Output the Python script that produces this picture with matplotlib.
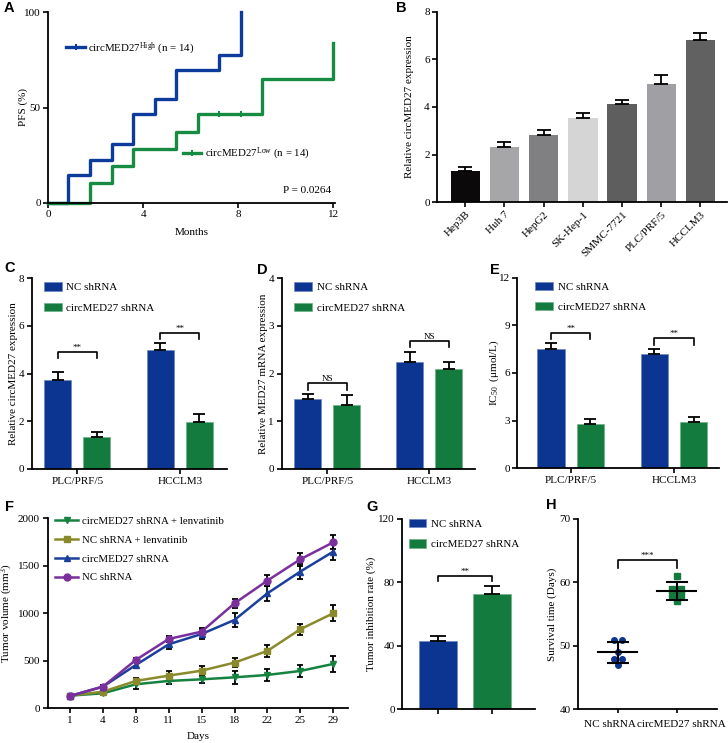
import numpy as np
import matplotlib
matplotlib.use("Agg")
import matplotlib.pyplot as plt
import matplotlib.transforms as mtransforms
from matplotlib.lines import Line2D
from matplotlib.patches import Patch

plt.rcParams["font.family"] = ["Liberation Serif", "DejaVu Serif"]
plt.rcParams["mathtext.fontset"] = "custom"
plt.rcParams["mathtext.rm"] = "Liberation Serif"
plt.rcParams["mathtext.it"] = "Liberation Serif:italic"
plt.rcParams["font.size"] = 7.5

W, H = 728, 743
BLUE = "#0b3590"
GREEN = "#137b3d"

# ---- A: PFS curves
high_t = [0, 0.84, 1.75, 2.7, 3.58, 4.49, 5.4, 7.19, 8.1]
high_v = [0, 14.3, 22.3, 31.0, 46.5, 54.5, 69.5, 77.5, 100]
low_t = [0, 1.75, 2.7, 3.58, 5.4, 6.3, 9.0, 12.0]
low_v = [0, 10.2, 19.4, 28.0, 37.3, 46.4, 65.0, 83.7]
low_censor_t = [7.2, 8.1]
low_censor_v = [46.4, 46.4]

# ---- B: cell lines
cell_lines = ["Hep3B", "Huh 7", "HepG2", "SK-Hep-1", "SMMC-7721", "PLC/PRF/5", "HCCLM3"]
cell_expr = [1.31, 2.32, 2.83, 3.52, 4.14, 4.98, 6.81]
cell_err = [0.19, 0.21, 0.20, 0.21, 0.17, 0.35, 0.28]
cell_colors = ["#0b0909", "#a6a6a8", "#808083", "#d5d5d5", "#5e5e5e", "#a0a0a4", "#616161"]

groups = ["PLC/PRF/5", "HCCLM3"]
# ---- C
c_nc = [3.75, 4.99]
c_nc_err = [0.33, 0.30]
c_sh = [1.34, 1.99]
c_sh_err = [0.20, 0.30]
c_brk = [4.92, 5.72]
# ---- D
d_nc = [1.46, 2.24]
d_nc_err = [0.11, 0.22]
d_sh = [1.35, 2.09]
d_sh_err = [0.20, 0.16]
d_brk = [1.80, 2.69]
# ---- E
e_nc = [7.53, 7.17]
e_nc_err = [0.34, 0.36]
e_sh = [2.77, 2.89]
e_sh_err = [0.31, 0.36]
e_brk = [8.54, 8.18]

# ---- F: tumour growth
days = ["1", "4", "8", "11", "15", "18", "22", "25", "29"]
nc_vol = [130, 228, 509, 730, 807, 1105, 1344, 1568, 1747]
nc_vol_err = [10, 20, 25, 30, 35, 45, 60, 65, 75]
sh_vol = [130, 228, 456, 674, 782, 930, 1210, 1439, 1649]
sh_vol_err = [10, 20, 35, 50, 55, 70, 80, 75, 85]
ncl_vol = [133, 175, 288, 344, 396, 481, 604, 832, 1000]
ncl_vol_err = [10, 15, 30, 45, 50, 45, 65, 60, 85]
shl_vol = [133, 158, 253, 288, 305, 326, 351, 393, 467]
shl_vol_err = [10, 15, 45, 35, 40, 65, 60, 60, 80]

# ---- G
inhib = [43.3, 72.7]
inhib_err = [2.9, 5.1]

# ---- H
surv_nc = [51, 51, 49, 48, 48, 47]
surv_sh = [61, 59, 59, 58, 58, 57]

fig = plt.figure(figsize=(W / 100, H / 100), dpi=100)


def px_axes(x0, y0, x1, y1):
    return fig.add_axes([x0 / W, 1 - y1 / H, (x1 - x0) / W, (y1 - y0) / H])


def style(ax, ylab_x=None):
    for s in ["top", "right"]:
        ax.spines[s].set_visible(False)
    for s in ["left", "bottom"]:
        ax.spines[s].set_linewidth(1.3)
    ax.tick_params(direction="out", length=3.5, width=1.2, labelsize=8, pad=2)
    if ylab_x is not None:
        ax.yaxis.set_label_coords(ylab_x, 0.5)


def panel(letter, x, y):
    fig.text(x / W, 1 - y / H, letter, fontsize=10.5, fontweight="bold",
             family="Liberation Sans", ha="left", va="center")


def bracket(ax, x1, x2, y, drop, label):
    ax.plot([x1, x1, x2, x2], [y - drop, y, y, y - drop], color="black", lw=1.2, clip_on=False)
    ax.text((x1 + x2) / 2, y, label, ha="center", va="bottom", fontsize=6.5)


def up_err(ax, x, top, err, cap=4):
    ax.errorbar(x, top, yerr=[np.zeros(len(top)), err], fmt="none", ecolor="black",
                elinewidth=1.3, capsize=cap, capthick=1.3)


def bar_legend(ax, anchor):
    handles = [Patch(facecolor=BLUE, edgecolor="#6b86c0", lw=0.5),
               Patch(facecolor=GREEN, edgecolor="#6fb08a", lw=0.5)]
    ax.legend(handles, ["NC shRNA", "circMED27 shRNA"], loc="upper left",
              bbox_to_anchor=anchor, frameon=False, fontsize=7.9, handlelength=1.6,
              handleheight=0.8, handletextpad=0.45, labelspacing=0.95,
              borderaxespad=0, borderpad=0)


def group_panel(ax, nc, nc_err, sh, sh_err, brk, drop, label, ymax, yticks, ylabel, ylab_x):
    x = np.arange(len(groups))
    off, w = 0.19, 0.265
    ax.bar(x - off, nc, w, color=BLUE, edgecolor="#6b86c0", lw=0.5)
    ax.bar(x + off, sh, w, color=GREEN, edgecolor="#6fb08a", lw=0.5)
    up_err(ax, x - off, nc, nc_err)
    up_err(ax, x + off, sh, sh_err)
    for i in range(len(groups)):
        bracket(ax, x[i] - off, x[i] + off, brk[i], drop, label)
    ax.set_xticks(x)
    ax.set_xticklabels(groups, fontsize=8)
    ax.set_ylim(0, ymax)
    ax.set_yticks(yticks)
    ax.set_ylabel(ylabel, fontsize=8)
    style(ax, ylab_x)


# ---------------- A
axA = px_axes(48.3, 12.3, 335, 202.7)
axA.step(high_t, high_v, where="post", color="#0d3b9c", lw=2.4, clip_on=False)
axA.step(low_t, low_v, where="post", color="#178b42", lw=2.4, clip_on=False)
axA.plot(low_censor_t, low_censor_v, ls="none", marker="|", ms=4, mew=1.5, color="#178b42")
axA.set_xlim(0, 12.08)
axA.set_ylim(0, 100)
axA.set_xticks([0, 4, 8, 12])
axA.set_yticks([0, 50, 100])
axA.set_xlabel("Months", fontsize=8, labelpad=6)
axA.set_ylabel("PFS (%)", fontsize=8)
style(axA, -0.0715)
lg1 = axA.legend([Line2D([], [], color="#0d3b9c", lw=2.4, marker="|", ms=4, mew=1.5)],
                 ["circMED27$^{\\mathrm{High}}$ (n = 14)"], loc="center left",
                 bbox_to_anchor=(0.063, 0.81), frameon=False, fontsize=7.8, handlelength=1.7,
                 handletextpad=0.3, borderpad=0, borderaxespad=0)
axA.add_artist(lg1)
axA.legend([Line2D([], [], color="#178b42", lw=2.4, marker="|", ms=4, mew=1.5)],
           ["circMED27$^{\\mathrm{Low}}$ (n = 14)"], loc="center left",
           bbox_to_anchor=(0.47, 0.255), frameon=False, fontsize=7.8, handlelength=1.7,
           handletextpad=0.3, borderpad=0, borderaxespad=0)
axA.text(0.985, 0.065, "P = 0.0264", transform=axA.transAxes, ha="right", va="center", fontsize=8)

# ---------------- B
axB = px_axes(437.3, 11.7, 726.7, 202.3)
xb = np.arange(len(cell_lines))
axB.bar(xb, cell_expr, 0.75, color=cell_colors)
up_err(axB, xb, cell_expr, cell_err, cap=5)
axB.set_xlim(-0.714, 6.67)
axB.set_ylim(0, 8)
axB.set_yticks([0, 2, 4, 6, 8])
axB.set_xticks(xb)
axB.set_xticklabels(cell_lines, rotation=45, ha="right", rotation_mode="anchor", fontsize=7.5)
axB.set_ylabel("Relative circMED27 expression", fontsize=8)
style(axB, -0.079)

# ---------------- C
axC = px_axes(31.7, 278.3, 226.7, 469)
group_panel(axC, c_nc, c_nc_err, c_sh, c_sh_err, c_brk, 0.28, "**", 8, [0, 2, 4, 6, 8],
            "Relative circMED27 expression", -0.071)
axC.set_xlim(-0.444, 1.455)
bar_legend(axC, (0.063, 0.98))

# ---------------- D
axD = px_axes(281.7, 278.3, 475, 469)
group_panel(axD, d_nc, d_nc_err, d_sh, d_sh_err, d_brk, 0.14, "NS", 4, [0, 1, 2, 3, 4],
            "Relative MED27 mRNA expression", -0.072)
axD.set_xlim(-0.447, 1.448)
bar_legend(axD, (0.065, 0.98))

# ---------------- E
axE = px_axes(517.3, 277.7, 719.3, 468.3)
group_panel(axE, e_nc, e_nc_err, e_sh, e_sh_err, e_brk, 0.4, "**", 12, [0, 3, 6, 9, 12],
            "IC$_{50}$  (μmol/L)", -0.082)
axE.tick_params(axis="y", pad=1.5)
axE.set_xlim(-0.517, 1.438)
bar_legend(axE, (0.09, 0.98))

# ---------------- F
axF = px_axes(47.7, 518.3, 348.3, 708.3)
xf = np.arange(len(days))
series = [
    ("circMED27 shRNA + lenvatinib", shl_vol, shl_vol_err, "#16823f", "v"),
    ("NC shRNA + lenvatinib", ncl_vol, ncl_vol_err, "#8a8a2c", "s"),
    ("circMED27 shRNA", sh_vol, sh_vol_err, "#1b3f9b", "^"),
    ("NC shRNA", nc_vol, nc_vol_err, "#7b2f9c", "o"),
]
for name, vals, errs, col, mk in series:
    axF.errorbar(xf, vals, yerr=errs, fmt="none", ecolor="black", elinewidth=1.3,
                 capsize=2.5, capthick=1.3, zorder=2)
for name, vals, errs, col, mk in series:
    axF.plot(xf, vals, color=col, lw=1.8, marker=mk, ms=5, label=name, zorder=3)
axF.set_xlim(-0.68, 8.46)
axF.set_ylim(0, 2000)
axF.set_yticks([0, 500, 1000, 1500, 2000])
axF.set_xticks(xf)
axF.set_xticklabels(days, fontsize=8)
axF.set_xlabel("Days", fontsize=8, labelpad=5)
axF.set_ylabel("Tumor volume (mm$^{3}$)", fontsize=8)
style(axF, -0.110)
axF.legend(loc="upper left", bbox_to_anchor=(0.025, 1.01), frameon=False, fontsize=7.8,
           handlelength=2.1, handletextpad=0.4, labelspacing=0.85, borderpad=0, borderaxespad=0)

# ---------------- G
axG = px_axes(402.3, 519, 535, 709.3)
xg = np.arange(2)
axG.bar(xg, inhib, 0.71, color=[BLUE, GREEN], edgecolor=["#6b86c0", "#6fb08a"], lw=0.5)
up_err(axG, xg, inhib, inhib_err, cap=6)
bracket(axG, 0, 1, 84, 3, "**")
axG.set_xlim(-0.655, 1.80)
axG.set_ylim(0, 120)
axG.set_yticks([0, 40, 80, 120])
axG.set_xticks(xg)
axG.set_xticklabels(["", ""])
axG.set_ylabel("Tumor inhibition rate (%)", fontsize=8)
style(axG, -0.197)
bar_legend(axG, (0.05, 1.0))

# ---------------- H
axH = px_axes(578.3, 519, 716.7, 709.3)


def spread(vals):
    # side-by-side offsets for repeated values
    xs = []
    for i, v in enumerate(vals):
        n = vals.count(v)
        k = vals[:i].count(v)
        xs.append((k - (n - 1) / 2) * 0.14)
    return np.array(xs)


for i, (vals, col, mk) in enumerate([(surv_nc, BLUE, "o"), (surv_sh, GREEN, "s")]):
    axH.plot(i + spread(vals), vals, ls="none", marker=mk, ms=4, color=col, zorder=2)
    m, sd = np.mean(vals), np.std(vals, ddof=1)
    axH.plot([i - 0.33, i + 0.33], [m, m], color="black", lw=1.5, zorder=3)
    axH.plot([i - 0.17, i + 0.17], [m + sd, m + sd], color="black", lw=1.5, zorder=3)
    axH.plot([i - 0.17, i + 0.17], [m - sd, m - sd], color="black", lw=1.5, zorder=3)
    axH.plot([i, i], [m - sd, m + sd], color="black", lw=1.5, zorder=3)
bracket(axH, 0, 1, 63.6, 1.4, "***")
axH.set_xlim(-0.668, 1.68)
axH.set_ylim(40, 70)
axH.set_yticks([40, 50, 60, 70])
axH.set_xticks([0, 1])
axH.set_xticklabels(["NC shRNA", "circMED27 shRNA"], fontsize=6.9)
axH.set_ylabel("Survival time (Days)", fontsize=8)
style(axH, -0.152)
axH.tick_params(axis="x", length=3, pad=5)
# push the two crowded labels apart a little
for lab, dx in zip(axH.get_xticklabels(), [-8, 5]):
    lab.set_transform(lab.get_transform() + mtransforms.ScaledTranslation(dx / 100, 0, fig.dpi_scale_trans))

panel("A", 4, 8)
panel("B", 396, 8)
panel("C", 4, 268)
panel("D", 257, 270)
panel("E", 490, 270)
panel("F", 5, 507)
panel("G", 366, 507)
panel("H", 546, 505)

fig.savefig("out.png", dpi=100)
